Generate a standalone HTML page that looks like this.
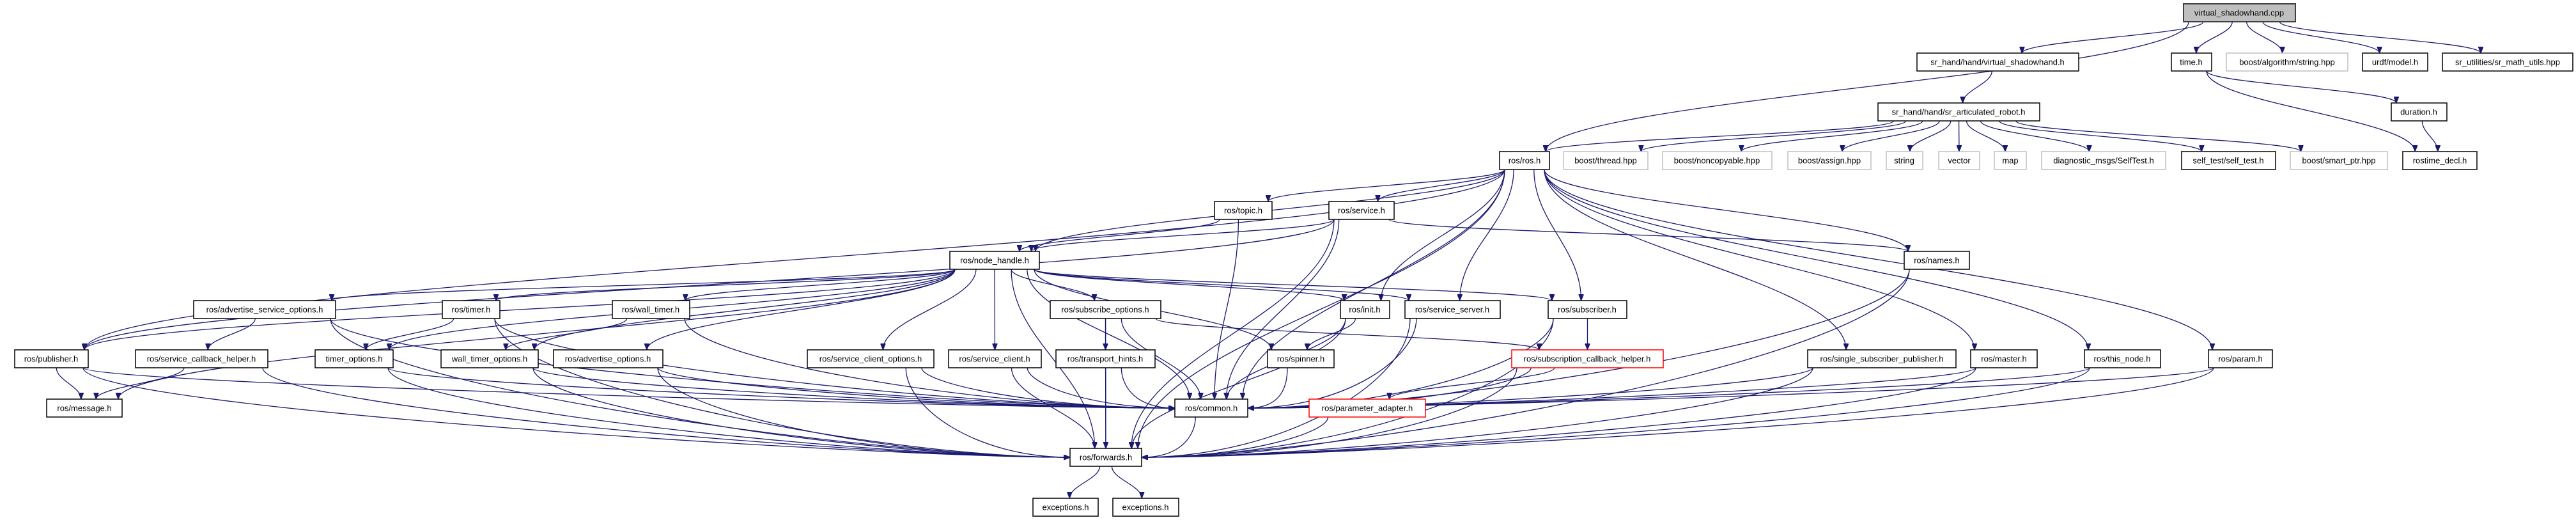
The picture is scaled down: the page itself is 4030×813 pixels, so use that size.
<!DOCTYPE html>
<html><head><meta charset="utf-8"><style>
html,body{margin:0;padding:0;background:#fff}
svg{display:block}
text{font-family:"Liberation Sans",Arial,sans-serif;font-size:13px;fill:#000;text-anchor:middle;dominant-baseline:central}
rect{fill:#fff;stroke-width:1.5}
.n{stroke:#000}
.m{fill:#bfbfbf;stroke:#404040;stroke-width:2}
.g{stroke:#bfbfbf}
.r{stroke:#ff0000}
.k{stroke:#404040;stroke-width:2}
path.e{fill:none;stroke:#191970;stroke-width:1.3}
</style></head><body>
<svg id="s" width="4030" height="813" viewBox="0 0 4030 813" xmlns="http://www.w3.org/2000/svg">
<defs><marker id="a" viewBox="0 0 10 8" refX="10" refY="4" markerWidth="10" markerHeight="8" markerUnits="userSpaceOnUse" orient="auto"><path d="M0,0 L10,4 L0,8 z" fill="#191970" stroke="#191970"/></marker></defs>
<g id="edges"></g>
<g id="nodes">
<rect class="m" x="3416" y="6" width="175" height="28"/><text x="3503" y="20">virtual_shadowhand.cpp</text>
<rect class="n" x="2999" y="83" width="253" height="28"/><text x="3125" y="97">sr_hand/hand/virtual_shadowhand.h</text>
<rect class="n" x="3397" y="83" width="63" height="28"/><text x="3428" y="97">time.h</text>
<rect class="g" x="3483" y="83" width="190" height="28"/><text x="3578" y="97">boost/algorithm/string.hpp</text>
<rect class="n" x="3696" y="83" width="102" height="28"/><text x="3747" y="97">urdf/model.h</text>
<rect class="n" x="3821" y="83" width="204" height="28"/><text x="3923" y="97">sr_utilities/sr_math_utils.hpp</text>
<rect class="n" x="2938" y="161" width="253" height="28"/><text x="3064" y="175">sr_hand/hand/sr_articulated_robot.h</text>
<rect class="n" x="3741" y="161" width="87" height="28"/><text x="3784" y="175">duration.h</text>
<rect class="k" x="2346" y="237" width="78" height="28"/><text x="2385" y="251">ros/ros.h</text>
<rect class="g" x="2446" y="237" width="132" height="28"/><text x="2512" y="251">boost/thread.hpp</text>
<rect class="g" x="2601" y="237" width="171" height="28"/><text x="2686" y="251">boost/noncopyable.hpp</text>
<rect class="g" x="2797" y="237" width="130" height="28"/><text x="2862" y="251">boost/assign.hpp</text>
<rect class="g" x="2951" y="237" width="57" height="28"/><text x="2979" y="251">string</text>
<rect class="g" x="3033" y="237" width="64" height="28"/><text x="3065" y="251">vector</text>
<rect class="g" x="3120" y="237" width="50" height="28"/><text x="3145" y="251">map</text>
<rect class="g" x="3194" y="237" width="194" height="28"/><text x="3291" y="251">diagnostic_msgs/SelfTest.h</text>
<rect class="k" x="3413" y="237" width="147" height="28"/><text x="3486" y="251">self_test/self_test.h</text>
<rect class="g" x="3583" y="237" width="152" height="28"/><text x="3659" y="251">boost/smart_ptr.hpp</text>
<rect class="k" x="3759" y="237" width="116" height="28"/><text x="3817" y="251">rostime_decl.h</text>
<rect class="n" x="1900" y="315" width="90" height="28"/><text x="1945" y="329">ros/topic.h</text>
<rect class="n" x="2079" y="315" width="102" height="28"/><text x="2130" y="329">ros/service.h</text>
<rect class="n" x="1486" y="393" width="140" height="28"/><text x="1556" y="407">ros/node_handle.h</text>
<rect class="n" x="2979" y="393" width="102" height="28"/><text x="3030" y="407">ros/names.h</text>
<rect class="n" x="303" y="470" width="222" height="28"/><text x="414" y="484">ros/advertise_service_options.h</text>
<rect class="n" x="692" y="470" width="90" height="28"/><text x="737" y="484">ros/timer.h</text>
<rect class="n" x="958" y="470" width="121" height="28"/><text x="1018" y="484">ros/wall_timer.h</text>
<rect class="n" x="1643" y="470" width="173" height="28"/><text x="1729" y="484">ros/subscribe_options.h</text>
<rect class="n" x="2097" y="470" width="77" height="28"/><text x="2135" y="484">ros/init.h</text>
<rect class="n" x="2198" y="470" width="149" height="28"/><text x="2272" y="484">ros/service_server.h</text>
<rect class="n" x="2422" y="470" width="123" height="28"/><text x="2483" y="484">ros/subscriber.h</text>
<rect class="n" x="23" y="547" width="115" height="28"/><text x="80" y="561">ros/publisher.h</text>
<rect class="n" x="212" y="547" width="207" height="28"/><text x="315" y="561">ros/service_callback_helper.h</text>
<rect class="n" x="493" y="547" width="122" height="28"/><text x="554" y="561">timer_options.h</text>
<rect class="n" x="690" y="547" width="152" height="28"/><text x="766" y="561">wall_timer_options.h</text>
<rect class="n" x="866" y="547" width="171" height="28"/><text x="951" y="561">ros/advertise_options.h</text>
<rect class="n" x="1263" y="547" width="198" height="28"/><text x="1362" y="561">ros/service_client_options.h</text>
<rect class="n" x="1484" y="547" width="145" height="28"/><text x="1556" y="561">ros/service_client.h</text>
<rect class="n" x="1652" y="547" width="155" height="28"/><text x="1729" y="561">ros/transport_hints.h</text>
<rect class="n" x="1983" y="547" width="104" height="28"/><text x="2035" y="561">ros/spinner.h</text>
<rect class="r" x="2365" y="547" width="237" height="28"/><text x="2483" y="561">ros/subscription_callback_helper.h</text>
<rect class="n" x="2828" y="547" width="232" height="28"/><text x="2944" y="561">ros/single_subscriber_publisher.h</text>
<rect class="n" x="3083" y="547" width="104" height="28"/><text x="3135" y="561">ros/master.h</text>
<rect class="n" x="3261" y="547" width="119" height="28"/><text x="3320" y="561">ros/this_node.h</text>
<rect class="n" x="3455" y="547" width="100" height="28"/><text x="3505" y="561">ros/param.h</text>
<rect class="n" x="73" y="624" width="118" height="28"/><text x="132" y="638">ros/message.h</text>
<rect class="n" x="1838" y="624" width="114" height="28"/><text x="1895" y="638">ros/common.h</text>
<rect class="r" x="2048" y="624" width="182" height="28"/><text x="2139" y="638">ros/parameter_adapter.h</text>
<rect class="n" x="1674" y="701" width="112" height="28"/><text x="1730" y="715">ros/forwards.h</text>
<rect class="n" x="1616" y="779" width="102" height="28"/><text x="1667" y="793">exceptions.h</text>
<rect class="n" x="1741" y="779" width="103" height="28"/><text x="1792" y="793">exceptions.h</text>
</g>
</svg>
<script>
var N={cpp:[3416,3591,6],vsh:[2999,3252,83],time:[3397,3460,83],algo:[3483,3673,83],urdf:[3696,3798,83],sru:[3821,4025,83],
sar:[2938,3191,161],dur:[3741,3828,161],ros:[2346,2424,237],thr:[2446,2578,237],nonc:[2601,2772,237],assign:[2797,2927,237],
string:[2951,3008,237],vector:[3033,3097,237],map:[3120,3170,237],diag:[3194,3388,237],selftest:[3413,3560,237],smart:[3583,3735,237],
rtd:[3759,3875,237],topic:[1900,1990,315],service:[2079,2181,315],nh:[1486,1626,393],names:[2979,3081,393],
aso:[303,525,470],timer:[692,782,470],wt:[958,1079,470],subo:[1643,1816,470],init:[2097,2174,470],ss:[2198,2347,470],sub:[2422,2545,470],
pub:[23,138,547],sch:[212,419,547],to:[493,615,547],wto:[690,842,547],ao:[866,1037,547],sco:[1263,1461,547],sc:[1484,1629,547],
th:[1652,1807,547],spin:[1983,2087,547],scbh:[2365,2602,547],ssp:[2828,3060,547],master:[3083,3187,547],thisn:[3261,3380,547],
param:[3455,3555,547],msg:[73,191,624],common:[1838,1952,624],pa:[2048,2230,624],fwd:[1674,1786,701],ex1:[1616,1718,779],ex2:[1741,1844,779]};
var E="cpp ros,cpp vsh,cpp time,cpp algo,cpp urdf,cpp sru,vsh sar,time dur,time rtd,dur rtd,sar ros,sar thr,sar nonc,sar assign,sar string,sar vector,sar map,sar diag,sar selftest,sar smart,"+
"ros topic,ros service,ros nh,ros pub,ros init,ros ss,ros sub,ros names,ros common,ros fwd,ros ssp,ros master,ros thisn,ros param,"+
"topic nh,topic common,service nh,service names,service common,service fwd,service pub,"+
"nh aso,nh timer,nh wt,nh pub,nh msg,nh subo,nh sco,nh sc,nh init,nh ss,nh sub,nh spin,nh common,nh fwd,nh to,nh wto,nh ao,"+
"aso sch,aso common,aso fwd,sch msg,sch fwd,pub msg,pub common,pub fwd,timer to,timer common,timer fwd,wt wto,wt common,"+
"to common,to fwd,wto common,wto fwd,ao common,ao fwd,subo th,subo common,subo fwd,subo scbh,sco common,sco fwd,sc common,sc fwd,th common,th fwd,"+
"spin common,init spin,init common,init fwd,ss common,ss fwd,sub scbh,sub common,sub fwd,scbh pa,scbh common,scbh fwd,pa fwd,"+
"ssp common,ssp fwd,master common,master fwd,thisn common,thisn fwd,param common,param fwd,names common,names fwd,common fwd,fwd ex1,fwd ex2";
var g=document.getElementById('edges'),out="";
E.split(',').forEach(function(p){var q=p.split(' '),s=N[q[0]],t=N[q[1]];
var sc=(s[0]+s[1])/2,tc=(t[0]+t[1])/2,sy=s[2]+28,ty=t[2],dx=tc-sc,dy=ty-sy;
var sx=Math.max(s[0]+8,Math.min(s[1]-8,sc+dx*0.15));var tx,tY,c2x,c2y;
var side=(q[1]=='common'||q[1]=='fwd')&&Math.abs(dx)>2*Math.max(dy,20)&&dy>0;
if(side){ tx=dx>0?t[0]:t[1]; tY=t[2]+14; c2x=tx-(dx>0?1:-1)*Math.min(Math.abs(dx)*0.4,300); c2y=tY;
 out+='<path class="e" marker-end="url(#a)" d="M'+sx+','+sy+' C'+sx+','+(sy+Math.max(dy*0.5,20))+' '+c2x+','+c2y+' '+tx+','+tY+'"/>';}
else{tx=Math.max(t[0]+6,Math.min(t[1]-6,tc-dx*0.1));tY=ty;
 out+='<path class="e" marker-end="url(#a)" d="M'+sx+','+sy+' C'+sx+','+(sy+dy*0.4)+' '+tx+','+(tY-dy*0.4)+' '+tx+','+tY+'"/>';}
});
g.innerHTML=out;
</script>
</body></html>
